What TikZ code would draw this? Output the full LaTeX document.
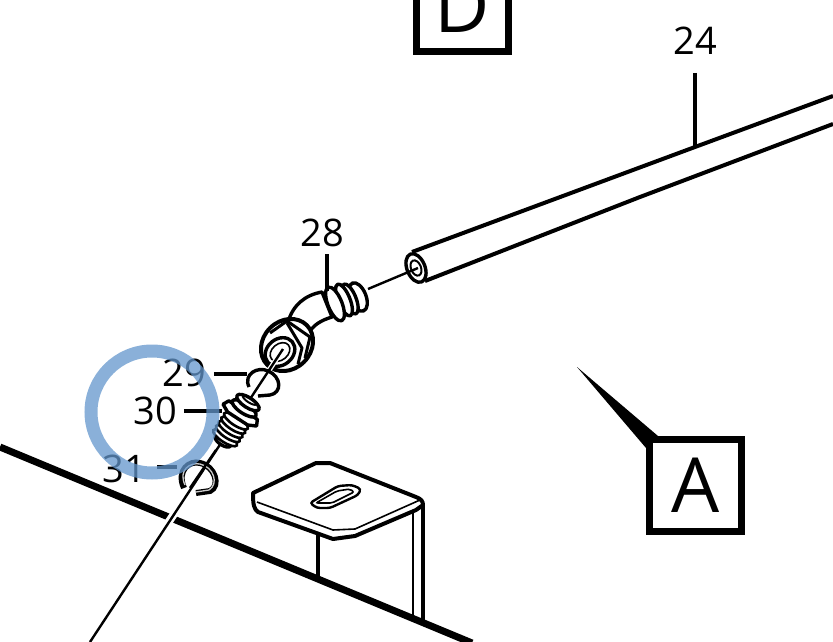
\documentclass[tikz,border=0pt]{standalone}
\usepackage{fontspec}
\setmainfont{Open Sans}
\usetikzlibrary{positioning}
\definecolor{ringblue}{rgb}{0.39,0.59,0.80}
\tikzstyle{partlabel} = [inner sep=0pt, font=\fontsize{38}{38}\selectfont]
\tikzstyle{viewbox} = [draw=black, line width=7pt, minimum size=92pt, inner sep=0pt, fill=white, font=\fontsize{76}{76}\selectfont]
\tikzstyle{leader} = [line width=3.2pt]
\tikzstyle{tube} = [line width=4pt]
\tikzstyle{wire} = [line width=2.4pt]
\tikzstyle{halo} = [line width=7pt, white]
\tikzstyle{part} = [line width=3.4pt, fill=white, line join=round]
\tikzstyle{thin} = [line width=1.6pt]

\begin{document}
\begin{tikzpicture}[x=1pt, y=-1pt]
                \useasboundingbox (0,0) rectangle (833,642);
                \clip (0,0) rectangle (833,642);

                \node (boxD) [viewbox] at (462.5,5.5) {D};
                \node (boxA) [viewbox] at (695.5,485.5) {A};
                \coordinate (tipA) at (577,367);
                \fill (tipA) -- ([xshift=12pt]boxA.north west) -- ([yshift=-12pt]boxA.north west) -- cycle;

                % floor edge and bracket
                \coordinate (edgeL) at (0,447);
                \coordinate (edgeR) at (472,643);
                \draw [line width=7pt] (edgeL) -- (edgeR);
                \draw [line width=4pt] (318,533) -- (318,579);
                \draw [line width=1.8pt] (413,512) -- (413,617);
                \draw [line width=4pt] (423,503) -- (423,622);
                \draw [line width=4pt, line join=round, fill=white] (253,493) -- (316,463) -- (330,463) -- (416,497)
                    .. controls (421,499) and (423,501) .. (423,505) -- (416,510) -- (355,536) -- (333,539) -- (258,512)
                    .. controls (254,509) and (253,505) .. (253,493) -- cycle;
                \draw [thin] (257,502) -- (333,530) -- (355,529) -- (420,500);
                \draw [line width=2.4pt, rounded corners=3pt] (310,503) -- (317,508) -- (330,508) -- (358,495) -- (361,489)
                    -- (352,485) -- (338,486) -- cycle;
                \draw [thin, rounded corners=2pt] (316,503) -- (332,503) -- (354,492) -- (350,489) -- (337,491) -- cycle;

                % tube
                \draw [tube] (412,252) -- (695,147) -- (833,96);
                \draw [tube] (425,281) -- (640,197) -- (833,124);
                \draw [part, rotate around={22:(416,268)}] (416,268) ellipse (9 and 15);
                \draw [line width=2pt, fill=white, rotate around={22:(416,268)}] (416,268) ellipse (5 and 8);

                % elbow
                \coordinate (wireA) at (368,289);
                \coordinate (wireB) at (418,268);
                \draw [wire] (wireA) -- (wireB);
                \draw [part] (322,292) .. controls (305,295) and (293,305) .. (288,322) -- (308,335)
                    .. controls (312,325) and (322,320) .. (332,317) -- cycle;
                \draw [part, rotate around={22:(358,297)}] (358,297) ellipse (8 and 15);
                \draw [part, rotate around={22:(350,299)}] (350,299) ellipse (6 and 16);
                \draw [part, rotate around={22:(344,300)}] (344,300) ellipse (6 and 17);
                \draw [part, rotate around={22:(335,304)}] (335,304) ellipse (7 and 18);

                % nut
                \draw [part, line width=4pt, rotate around={45:(287,345)}] (287,345) ellipse (28 and 24);
                \draw [line width=3pt, line join=round] (270,333) -- (287,321) -- (310,337) -- (305,358);
                \draw [line width=3pt, line join=round] (287,323) -- (302,348) -- (298,364);
                \draw [part, rotate around={40:(280,352)}] (280,352) ellipse (16 and 13);
                \draw [thin, rotate around={40:(280,352)}] (280,352) ellipse (11 and 8);

                % wire down to the left
                \coordinate (wireC) at (283,349);
                \coordinate (wireD) at (90,642);
                \draw [halo, line width=8pt] (170,520) ++(-6,9) -- ++(12,-18);
                \draw [halo, line width=5pt] (wireC) -- (262,381);
                \draw [wire] (wireC) -- (wireD);

                % ring 29
                \coordinate (ring29) at (247,374);
                \draw [line width=3.4pt] (249,387) .. controls (243,374) and (258,366) .. (268,371)
                    .. controls (282,377) and (282,393) .. (270,395) -- (258,396);

                % fitting 30
                \begin{scope}[shift={(236,421)}, rotate=57]
                    \draw [part] (-24,0) ellipse (4 and 9);
                    \foreach \i in {-20,-15,-10,-5,0}
                        \draw [line width=2.6pt, fill=white] (\i,0) ellipse (4.5 and 14);
                    \draw [part] (3,-12) -- (7,-20) -- (13,-17) -- (13,17) -- (7,20) -- (3,12) -- cycle;
                    \draw [part] (15,0) ellipse (5 and 14);
                    \draw [part] (22,0) ellipse (5 and 13);
                    \draw [line width=2pt] (25,0) ellipse (2.5 and 8);
                \end{scope}
                \coordinate (fit30) at (222,411);

                % ring 31
                \coordinate (ring31) at (177,467);
                \draw [line width=6pt] (184,488) .. controls (176,470) and (190,460) .. (200,463)
                    .. controls (215,466) and (221,486) .. (210,491) -- (196,493);
                \draw [line width=1.3pt, gray!40] (185,485) .. controls (178,470) and (190,462) .. (200,464)
                    .. controls (214,467) and (219,484) .. (209,490) -- (196,492);
                \draw [wire] (216,450) -- (190,488);

                % labels
                \node (lbl24) [partlabel] at (695,41) {24};
                \node (lbl28) [partlabel] at (322,233) {28};
                \node (lbl29) [partlabel] at (184,373) {29};
                \node (lbl30) [partlabel] at (155,411) {30};
                \node (lbl31) [partlabel] at (124,469) {31};

                \coordinate (tube24) at (695,147);
                \coordinate (fit28) at (327,291);
                \draw [leader] (lbl24.south) ++(0,18) -- (tube24);
                \draw [leader] (lbl28.south) ++(5,7) -- (fit28);
                \draw [leader] (lbl29.east) ++(8,1) -- (ring29);
                \draw [leader] (lbl30.east) ++(7,0) -- (fit30);
                \draw [leader] (lbl31.east) ++(11,-2) -- (ring31);

                \draw [ringblue, opacity=0.75, line width=13pt] (152,412) circle (61);
            \end{tikzpicture}
\end{document}
